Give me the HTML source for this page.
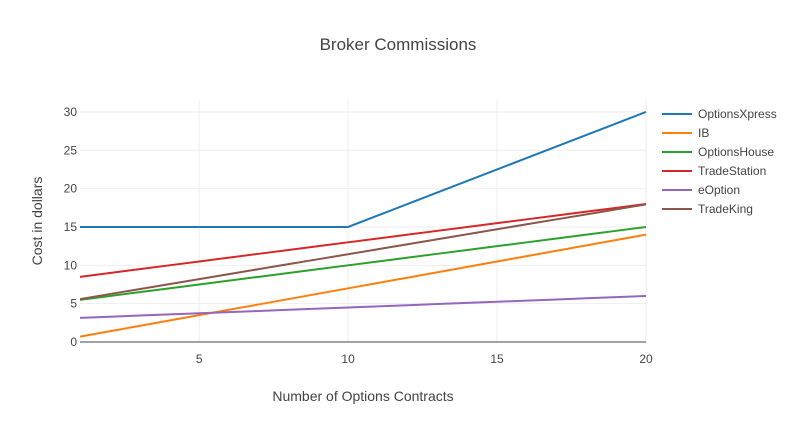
<!DOCTYPE html>
<html><head><meta charset="utf-8"><style>
body{margin:0;background:#fff;}
svg{display:block;font-family:"Liberation Sans",sans-serif;}
</style></head><body>
<svg id="chart" width="796" height="429">
<text x="398" y="50" text-anchor="middle" font-size="17" fill="#444">Broker Commissions</text>
<g id="grid"></g>
<g id="lines"></g>
<g id="xticks"></g>
<g id="yticks"></g>
<text x="363" y="401" text-anchor="middle" font-size="14" fill="#444">Number of Options Contracts</text>
<text transform="translate(42,221) rotate(-90)" text-anchor="middle" font-size="14" fill="#444">Cost in dollars</text>
<g id="legend"></g>
</svg>
<script>
const xs = [1,2,3,4,5,6,7,8,9,10,11,12,13,14,15,16,17,18,19,20];
const seriesNames = ["OptionsXpress","IB","OptionsHouse","TradeStation","eOption","TradeKing"];
const optionsXpress = [15,15,15,15,15,15,15,15,15,15,16.5,18,19.5,21,22.5,24,25.5,27,28.5,30];
const ib = [0.7,1.4,2.1,2.8,3.5,4.2,4.9,5.6,6.3,7,7.7,8.4,9.1,9.8,10.5,11.2,11.9,12.6,13.3,14];
const optionsHouse = [5.5,6,6.5,7,7.5,8,8.5,9,9.5,10,10.5,11,11.5,12,12.5,13,13.5,14,14.5,15];
const tradeStation = [8.5,9,9.5,10,10.5,11,11.5,12,12.5,13,13.5,14,14.5,15,15.5,16,16.5,17,17.5,18];
const eOption = [3.15,3.3,3.45,3.6,3.75,3.9,4.05,4.2,4.35,4.5,4.65,4.8,4.95,5.1,5.25,5.4,5.55,5.7,5.85,6];
const tradeKing = [5.6,6.25,6.9,7.55,8.2,8.85,9.5,10.15,10.8,11.45,12.1,12.75,13.4,14.05,14.7,15.35,16,16.65,17.3,17.95];
const xTickVals = [5,10,15,20];
const yTickVals = [0,5,10,15,20,25,30];
const allSeries = [optionsXpress, ib, optionsHouse, tradeStation, eOption, tradeKing];
const colors = ["#1f77b4","#ff7f0e","#2ca02c","#d62728","#9467bd","#8c564b"];
const L=80,R=646,T=100,B=342, xMin=1,xMax=20,yMin=0,yMax=31.56;
const X=v=>L+(v-xMin)/(xMax-xMin)*(R-L);
const Y=v=>B-(v-yMin)/(yMax-yMin)*(B-T);
const NS="http://www.w3.org/2000/svg";
function mk(tag,attrs,parent){const e=document.createElementNS(NS,tag);for(const k in attrs)e.setAttribute(k,attrs[k]);parent.appendChild(e);return e;}
const grid=document.getElementById('grid'),xt=document.getElementById('xticks'),yt=document.getElementById('yticks'),lines=document.getElementById('lines'),leg=document.getElementById('legend');
xTickVals.forEach(v=>{
  const g=mk('line',{x1:X(v),x2:X(v),y1:T,y2:B,stroke:'#eee','stroke-width':1},grid);
  
  
  const t=mk('text',{x:X(v),y:B+21,'text-anchor':'middle','font-size':12,fill:'#444'},xt);
  t.textContent=v;
  
  
});
yTickVals.forEach(v=>{
  const g=mk('line',{x1:L,x2:R,y1:Y(v),y2:Y(v),stroke:v===0?'#444':'#eee','stroke-width':1},grid);
  
  
  const t=mk('text',{x:L-3,y:Y(v)+4,'text-anchor':'end','font-size':12,fill:'#444'},yt);
  t.textContent=v;
  
  
});
allSeries.forEach((s,i)=>{
  const p=mk('polyline',{points:s.map((v,j)=>X(xs[j])+','+Y(v)).join(' '),fill:'none',stroke:colors[i],'stroke-width':2},lines);
  
  
  const ly=114+i*19;
  const g=mk('g',{},leg);
  
  
  mk('line',{x1:662,x2:692,y1:ly,y2:ly,stroke:colors[i],'stroke-width':2},g);
  const t=mk('text',{x:698,y:ly+4,'font-size':12,fill:'#444'},g);
  t.textContent=seriesNames[i];
});
</script>
</body></html>
